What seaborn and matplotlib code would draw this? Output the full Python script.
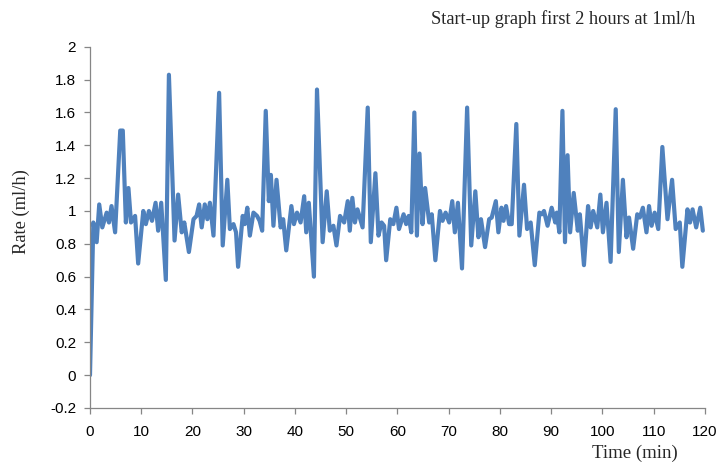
import matplotlib
matplotlib.use("Agg")
import matplotlib.pyplot as plt
import seaborn as sns
import pandas as pd

time_min = [0, 0.65, 1.3, 1.8, 2.4, 3.25, 3.7, 4.2, 4.9, 5.9, 6.4, 7.0, 7.5, 8.0, 8.8, 9.4,
            10.4, 10.9, 11.5, 12.1, 12.8, 13.3, 13.9, 14.8, 15.4, 16.5, 17.2, 17.9, 18.4, 19.3,
            20.2, 20.8, 21.3, 21.8, 22.4, 22.9, 23.4, 24.1, 25.2, 25.9, 26.8, 27.3, 28.0, 28.5,
            28.9, 29.8, 30.2, 30.7, 31.2, 31.9, 32.6, 33.1, 33.6, 34.3, 34.9, 35.3, 35.8, 36.4,
            37.2, 37.7, 38.3, 39.3, 39.8, 40.4, 41.1, 41.8, 42.2, 42.7, 43.7, 44.3, 45.4, 46.2,
            46.8, 47.5, 48.1, 48.8, 49.6, 50.3, 50.7, 51.2, 51.7, 52.2, 53.2, 54.2, 54.8, 55.7,
            56.3, 56.9, 57.4, 57.8, 58.6, 59.2, 59.8, 60.3, 61.2, 61.7, 62.2, 62.7, 63.3, 63.8,
            64.3, 64.9, 65.4, 66.2, 66.7, 67.4, 68.3, 68.8, 69.4, 70.1, 70.7, 71.2, 71.8, 72.6,
            73.6, 74.4, 75.2, 75.8, 76.3, 77.1, 77.9, 78.4, 79.2, 79.7, 80.3, 80.7, 81.2, 81.8,
            82.3, 83.2, 83.8, 84.7, 85.3, 86.0, 86.8, 87.7, 88.2, 88.6, 89.3, 90.1, 90.8, 91.1,
            91.6, 92.2, 92.7, 93.2, 93.7, 94.4, 95.2, 95.6, 96.4, 97.2, 97.7, 98.2, 99.0, 99.6,
            100.1, 100.8, 101.6, 102.6, 103.2, 104.0, 104.7, 105.2, 106.0, 106.8, 107.3, 107.9,
            108.6, 109.1, 109.6, 110.2, 110.9, 111.7, 112.7, 113.6, 114.3, 115.1, 115.6, 116.6,
            117.1, 117.6, 118.3, 119.1, 119.6]
rate_ml_h = [0.0, 0.93, 0.81, 1.04, 0.90, 0.99, 0.93, 1.03, 0.87, 1.49, 1.49, 0.93, 1.14, 0.93, 0.97, 0.68,
             1.00, 0.92, 1.00, 0.94, 1.05, 0.88, 1.05, 0.58, 1.83, 0.82, 1.10, 0.87, 0.93, 0.75,
             0.95, 0.97, 1.04, 0.90, 1.04, 0.95, 1.05, 0.85, 1.72, 0.79, 1.19, 0.89, 0.92, 0.87,
             0.66, 0.97, 0.92, 1.02, 0.85, 0.99, 0.97, 0.94, 0.88, 1.61, 1.06, 1.22, 0.91, 1.19,
             0.90, 0.95, 0.76, 1.03, 0.92, 0.99, 0.93, 1.09, 0.87, 1.05, 0.60, 1.74, 0.81, 1.12,
             0.88, 0.91, 0.79, 0.97, 0.93, 1.06, 0.88, 1.08, 0.93, 1.01, 0.90, 1.63, 0.81, 1.23,
             0.85, 0.93, 0.91, 0.70, 0.95, 0.92, 1.02, 0.89, 0.98, 0.92, 0.97, 0.87, 1.60, 0.85,
             1.35, 0.92, 1.14, 0.93, 0.98, 0.70, 1.00, 0.94, 0.99, 0.93, 1.06, 0.87, 1.05, 0.65,
             1.63, 0.79, 1.12, 0.84, 0.95, 0.78, 0.95, 0.96, 1.06, 0.87, 1.02, 0.94, 1.03, 0.92,
             0.92, 1.53, 0.85, 1.16, 0.89, 0.93, 0.67, 0.99, 0.98, 1.00, 0.91, 1.02, 0.93, 0.99,
             0.87, 1.61, 0.81, 1.34, 0.87, 1.11, 0.88, 0.98, 0.67, 1.03, 0.90, 1.00, 0.90, 1.10,
             0.87, 1.05, 0.69, 1.62, 0.75, 1.19, 0.84, 0.96, 0.77, 0.98, 0.96, 1.02,
             0.87, 1.03, 0.91, 0.99, 0.89, 1.39, 0.95, 1.19, 0.89, 0.93, 0.66, 1.01,
             0.93, 1.01, 0.90, 1.02, 0.88]

y_ticks = [-0.2, 0, 0.2, 0.4, 0.6, 0.8, 1.0, 1.2, 1.4, 1.6, 1.8, 2.0]
y_tick_labels = ["-0.2", "0", "0.2", "0.4", "0.6", "0.8", "1", "1.2", "1.4", "1.6", "1.8", "2"]
x_ticks = [0, 10, 20, 30, 40, 50, 60, 70, 80, 90, 100, 110, 120]

df = pd.DataFrame({"Time (min)": time_min, "Rate (ml/h)": rate_ml_h})

sns.set_style("ticks")
plt.rcParams["font.family"] = ["Liberation Sans", "DejaVu Sans"]

fig = plt.figure(figsize=(7.2, 4.66), dpi=100)
ax = fig.add_axes([0.125, 0.1245, 0.854, 0.775])

sns.lineplot(data=df, x="Time (min)", y="Rate (ml/h)", ax=ax, color="#4F81BD",
             linewidth=3.0, solid_joinstyle="round", solid_capstyle="round")

ax.set_xlim(0, 120)
ax.set_ylim(-0.2, 2.0)
ax.set_xticks(x_ticks)
ax.set_xticklabels([str(v) for v in x_ticks])
ax.set_yticks(y_ticks)
ax.set_yticklabels(y_tick_labels)

spine_color = "#868686"
for s in ["top", "right"]:
    ax.spines[s].set_visible(False)
for s in ["left", "bottom"]:
    ax.spines[s].set_color(spine_color)
    ax.spines[s].set_linewidth(0.9)
ax.tick_params(axis="both", colors=spine_color, labelcolor="black", labelsize=11,
               length=4, width=0.9)
ax.tick_params(axis="x", pad=8)
ax.tick_params(axis="y", pad=6)

ax.set_xlabel("")
ax.set_ylabel("")
serif = ["Liberation Serif", "DejaVu Serif"]
fig.text(0.966, 0.96, "Start-up graph first 2 hours at 1ml/h", ha="right", va="center",
         family=serif, fontsize=13.2)
fig.text(0.942, 0.028, "Time (min)", ha="right", va="center", family=serif, fontsize=13.5)
fig.text(0.03, 0.545, "Rate (ml/h)", ha="center", va="center", rotation=90,
         family=serif, fontsize=13.3)

fig.savefig("out.png", dpi=100)
